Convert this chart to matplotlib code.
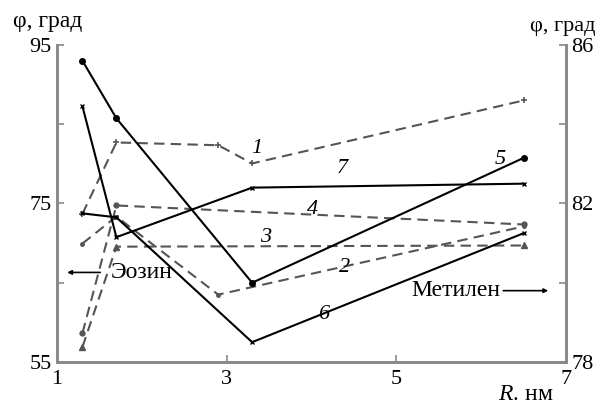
import matplotlib.pyplot as plt
from matplotlib import font_manager

serif = font_manager.FontProperties(family='Liberation Serif')
plt.rcParams['font.family'] = 'serif'
plt.rcParams['font.serif'] = ['Liberation Serif', 'DejaVu Serif']
plt.rcParams['mathtext.fontset'] = 'custom'
plt.rcParams['mathtext.it'] = 'Liberation Serif:italic'
plt.rcParams['mathtext.rm'] = 'Liberation Serif'

# eosin series (left axis), dashed
r1 = [1.3, 1.7, 2.9, 3.3, 6.5]
phi1 = [73.7, 82.7, 82.35, 80.05, 88.0]
r2 = [1.3, 1.7, 2.9, 6.5]
phi2 = [69.95, 73.35, 63.5, 72.1]
r3 = [1.3, 1.7, 6.5]
phi3 = [56.9, 69.55, 69.7]
r4 = [1.3, 1.7, 6.5]
phi4 = [58.65, 74.75, 72.35]

# methylene series (right axis), solid
r567 = [1.3, 1.7, 3.3, 6.5]
phi5 = [85.6, 84.15, 80.0, 83.15]
phi6 = [81.75, 81.65, 78.5, 81.25]
phi7 = [84.45, 81.15, 82.4, 82.5]

axis_grey = '#8a8a8a'
dash_grey = '#555555'

fig = plt.figure(figsize=(6.11, 4.07), dpi=100)
ax = fig.add_axes([0.0933, 0.1106, 0.8331, 0.7789])
ax2 = ax.twinx()

dash = dict(color=dash_grey, lw=1.5, ls=(0, (5, 3)))
ax.plot(r1, phi1, marker='+', ms=4, mew=1.2, **dash)
ax.plot(r2, phi2, marker='o', ms=2.5, **dash)
ax.plot(r3, phi3, marker='^', ms=4, **dash)
ax.plot(r4, phi4, marker='o', ms=3.5, **dash)

solid = dict(color='black', lw=1.5)
ax2.plot(r567, phi5, marker='o', ms=4, **solid)
ax2.plot(r567, phi6, marker='x', ms=3.5, **solid)
ax2.plot(r567, phi7, marker='x', ms=3.5, **solid)

ax.set_xlim(1, 7)
ax.set_ylim(55, 95)
ax2.set_ylim(78, 86)
ax.set_xticks([1, 3, 5, 7])
ax.set_yticks([55, 65, 75, 85, 95])
ax.set_yticklabels(['55', '', '75', '', '95'])
ax2.set_yticks([78, 80, 82, 84, 86])
ax2.set_yticklabels(['78', '', '82', '', '86'])

for a in (ax, ax2):
    a.spines['top'].set_visible(False)
    for s in ('left', 'right', 'bottom'):
        a.spines[s].set_color(axis_grey)
        a.spines[s].set_linewidth(2)
    a.tick_params(direction='in', length=5, width=1.2, color=axis_grey,
                  labelsize=16, pad=4)
    for t in a.get_xticklabels() + a.get_yticklabels():
        t.set_fontproperties(serif)
        t.set_fontsize(16)
ax.tick_params(axis='x', pad=6)

# curve numbers
lab = dict(fontsize=16, fontstyle='italic', ha='center', va='center',
           family='Liberation Serif')
ax.text(3.36, 82.0, '1', **lab)
ax.text(4.39, 66.9, '2', **lab)
ax.text(3.46, 70.7, '3', **lab)
ax.text(4.01, 74.3, '4', **lab)
ax.text(6.22, 80.5, '5', **lab)
ax.text(4.14, 61.0, '6', **lab)
ax.text(4.36, 79.4, '7', **lab)

# series legends with arrows
txt = dict(fontsize=17, family='Liberation Serif', va='center')
ax.annotate('', xy=(1.12, 66.3), xytext=(1.51, 66.3),
            arrowprops=dict(arrowstyle='-|>', color='black', lw=1.2,
                            mutation_scale=6, shrinkA=0, shrinkB=0))
ax.text(1.63, 66.3, 'Эозин', ha='left', **txt)
ax.annotate('', xy=(6.79, 64.0), xytext=(6.26, 64.0),
            arrowprops=dict(arrowstyle='-|>', color='black', lw=1.2,
                            mutation_scale=6, shrinkA=0, shrinkB=0))
ax.text(6.23, 64.0, 'Метилен', ha='right', **txt)

fig.text(13 / 611, 1 - 22 / 407, 'φ, град', ha='left', **txt)
fig.text(530 / 611, 1 - 26 / 407, 'φ, град', ha='left', fontsize=16,
         family='Liberation Serif', va='center')
fig.text(553 / 611, 1 - 395 / 407, r'$\mathit{R}$. нм', ha='right', **txt)

fig.savefig('out.png', dpi=100)
